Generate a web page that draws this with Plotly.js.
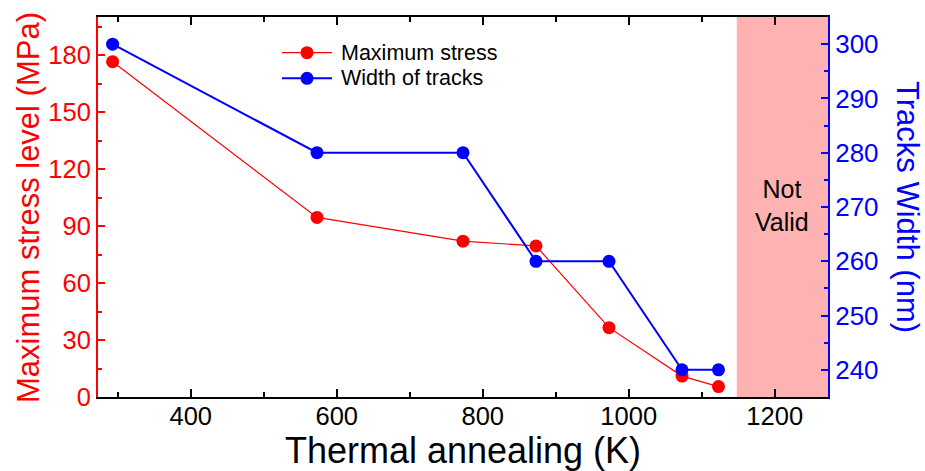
<!DOCTYPE html>
<html><head><meta charset="utf-8">
<script src="https://cdn.plot.ly/plotly-3.0.1.min.js"></script>
<style>html,body{margin:0;padding:0;background:#fff}#chart{width:925px;height:471px}</style>
</head><body><div id="chart"></div>
<script>
const temperatureK = [293, 573, 773, 873, 973, 1073, 1123];
const maxStressMPa = [176.5, 94.5, 82, 79.5, 36.5, 11, 5.5];
const trackWidthNm = [300, 280, 280, 260, 260, 240, 240];
const seriesNames = ['Maximum stress', 'Width of tracks'];
const notValidRangeK = [1148, 1273];
const notValidLabel = 'Not<br>Valid';
const xTitle = 'Thermal annealing (K)';
const yTitle = 'Maximum stress level (MPa)';
const y2Title = 'Tracks Width (nm)';

const RED = '#ff0000', BLUE = '#0000ff';
const FONT = 'Liberation Sans, Arial, sans-serif';
const seriesColors = [RED, BLUE];

// plot area geometry (for legend / title placement in paper coords)
const W = 925, H = 471, M = {l: 98, r: 97, t: 17, b: 74};
const PW = W - M.l - M.r, PH = H - M.t - M.b;
const px = v => (v - M.l) / PW;
const py = v => (H - M.b - v) / PH;

const traces = [
  {x: temperatureK, y: maxStressMPa, name: seriesNames[0], type: 'scatter', mode: 'lines+markers',
   line: {color: RED, width: 1.2}, marker: {color: RED, size: 13}, yaxis: 'y'},
  {x: temperatureK, y: trackWidthNm, name: seriesNames[1], type: 'scatter', mode: 'lines+markers',
   line: {color: BLUE, width: 2}, marker: {color: BLUE, size: 13}, yaxis: 'y2'}
];

// custom legend (line + dot + label)
const legendRows = [52.7, 78.3];
const legendShapes = [], legendAnn = [];
seriesNames.forEach((nm, i) => {
  const yy = py(legendRows[i]);
  legendShapes.push({type: 'line', xref: 'paper', yref: 'paper', x0: px(282), x1: px(332), y0: yy, y1: yy,
                     line: {color: seriesColors[i], width: i === 0 ? 1.2 : 2}});
  legendShapes.push({type: 'circle', xref: 'paper', yref: 'paper', x0: px(307 - 6.5), x1: px(307 + 6.5),
                     y0: py(legendRows[i] + 6.5), y1: py(legendRows[i] - 6.5),
                     fillcolor: seriesColors[i], line: {width: 0}});
  legendAnn.push({xref: 'paper', yref: 'paper', x: px(339), y: yy, xanchor: 'left', yanchor: 'middle',
                  text: nm, showarrow: false, font: {size: 21.5, color: '#000'}});
});

const layout = {
  width: W, height: H,
  margin: M,
  paper_bgcolor: '#fff', plot_bgcolor: '#fff',
  font: {family: FONT, color: '#000'},
  showlegend: false,
  xaxis: {range: [273, 1273], tick0: 0, dtick: 200, ticks: 'inside', ticklen: 8, tickwidth: 2,
          tickcolor: '#000', showline: true, linecolor: '#000', linewidth: 2, mirror: 'ticks',
          showgrid: false, zeroline: false, tickfont: {size: 25.5, color: '#000'}, ticklabelstandoff: -5,
          minor: {dtick: 100, tick0: 0, ticks: 'inside', ticklen: 5, tickwidth: 2, tickcolor: '#000'},
          title: {text: xTitle, font: {size: 36, color: '#000'}, standoff: 5}},
  yaxis: {range: [0, 200], tick0: 0, dtick: 30, ticks: 'inside', ticklen: 7, tickwidth: 2,
          tickcolor: RED, showline: true, linecolor: RED, linewidth: 2, showgrid: false, zeroline: false,
          tickfont: {size: 25.5, color: RED},
          minor: {dtick: 15, tick0: 0, ticks: 'inside', ticklen: 4, tickwidth: 2, tickcolor: RED}},
  yaxis2: {range: [235, 305], tick0: 240, dtick: 10, overlaying: 'y', side: 'right', ticks: 'inside',
           ticklen: 7, tickwidth: 2, tickcolor: BLUE, showline: true, linecolor: BLUE, linewidth: 2,
           showgrid: false, zeroline: false, tickfont: {size: 26, color: BLUE},
           minor: {dtick: 5, tick0: 0, ticks: 'inside', ticklen: 4, tickwidth: 2, tickcolor: BLUE}},
  shapes: [{type: 'rect', xref: 'x', yref: 'paper', x0: notValidRangeK[0], x1: notValidRangeK[1],
            y0: 0, y1: 1, fillcolor: 'rgba(255,0,0,0.3)', line: {width: 0}, layer: 'below'}].concat(legendShapes),
  annotations: [
    {xref: 'x', yref: 'paper', x: (notValidRangeK[0] + notValidRangeK[1]) / 2 - 1, y: 0.504,
     text: notValidLabel, showarrow: false, font: {size: 25, color: '#000'}, align: 'center'},
    {xref: 'paper', yref: 'paper', x: px(28), y: py(208), textangle: -90, xanchor: 'center', yanchor: 'middle',
     text: yTitle, showarrow: false, font: {size: 31, color: RED}},
    {xref: 'paper', yref: 'paper', x: px(908), y: 0.5, textangle: 90, xanchor: 'center', yanchor: 'middle',
     text: y2Title, showarrow: false, font: {size: 31, color: BLUE}}
  ].concat(legendAnn)
};

Plotly.newPlot('chart', traces, layout, {staticPlot: true, displayModeBar: false});
</script></body></html>
